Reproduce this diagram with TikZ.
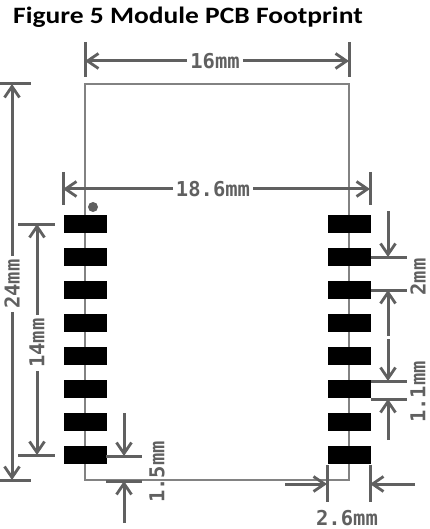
\documentclass[tikz,border=0pt]{standalone}
\usepackage{fontspec}
\setmainfont{Carlito}
\newfontfamily\dimfont{DejaVu Sans Mono}
\usetikzlibrary{arrows.meta}
\definecolor{dimgray}{RGB}{96,96,96}
\definecolor{outl}{RGB}{130,130,130}
\tikzset{
  extline/.style={draw=dimgray, line width=3pt},
  dimarrow/.style={draw=dimgray, line width=3pt, -{Straight Barb[length=11pt,width=15pt,line width=2.8pt]}},
  dimlabel/.style={text=dimgray, font=\dimfont\bfseries\fontsize{20.5}{20.5}\selectfont, inner xsep=3pt, inner ysep=0pt},
  padbox/.style={fill=black, draw=none, minimum width=43pt, minimum height=18pt, inner sep=0pt},
  outlinebox/.style={draw=outl, line width=1.8pt},
  pinmark/.style={circle, fill=dimgray, draw=none, minimum size=10pt, inner sep=0pt},
  titlestyle/.style={font=\bfseries\fontsize{23.5}{23.5}\selectfont, inner sep=0pt, anchor=base west, xscale=1.17}
}
\begin{document}
\begin{tikzpicture}[x=1pt,y=-1pt]
\useasboundingbox (0,0) rectangle (430,529);
% title
\node[titlestyle] (title) at (13,24) {Figure 5 Module PCB Footprint};
% outline
\draw[outlinebox] (85,84) rectangle (349,480);
% pads
\foreach \i in {1,...,8} {
  \node[padbox] (L\i) at (85,{224+33*(\i-1)}) {};
  \node[padbox] (R\i) at (349,{224+33*(\i-1)}) {};
}
\node[pinmark] (pin1) at (93,207) {};
% 16mm
\draw[extline] (85,42) -- (85,77);
\draw[extline] (349,42) -- (349,77);
\coordinate (a16l) at (85,61);
\coordinate (a16r) at (349,61);
\node[dimlabel] (l16) at (215,61) {16mm};
\draw[dimarrow] (l16.west) -- (a16l);
\draw[dimarrow] (l16.east) -- (a16r);
% 18.6mm
\draw[extline] (63,172) -- (63,205);
\draw[extline] (370,172) -- (370,205);
\coordinate (a18l) at (63,189);
\coordinate (a18r) at (370,189);
\node[dimlabel] (l18) at (213,189) {18.6mm};
\draw[dimarrow] (l18.west) -- (a18l);
\draw[dimarrow] (l18.east) -- (a18r);
% 24mm
\draw[extline] (0,84) -- (31,84);
\draw[extline] (0,480) -- (31,480);
\coordinate (a24t) at (12,84);
\coordinate (a24b) at (12,480);
\node[dimlabel, rotate=90] (l24) at (12,284) {24mm};
\draw[dimarrow] (l24.east) -- (a24t);
\draw[dimarrow] (l24.west) -- (a24b);
% 14mm
\draw[extline] (18,224) -- (55,224);
\draw[extline] (18,455) -- (55,455);
\coordinate (a14t) at (37,224);
\coordinate (a14b) at (37,455);
\node[dimlabel, rotate=90] (l14) at (37,343) {14mm};
\draw[dimarrow] (l14.east) -- (a14t);
\draw[dimarrow] (l14.west) -- (a14b);
% 1.5mm
\draw[extline] (106,456) -- (142,456);
\draw[extline] (106,481) -- (142,481);
\coordinate (s15t) at (124,413);
\coordinate (e15t) at (124,456);
\coordinate (s15b) at (124,523);
\coordinate (e15b) at (124,481);
\draw[dimarrow] (s15t) -- (e15t);
\draw[dimarrow] (s15b) -- (e15b);
\node[dimlabel, rotate=90] (l15) at (157,472) {1.5mm};
% 2mm
\draw[extline] (371,257) -- (407,257);
\draw[extline] (371,290) -- (407,290);
\coordinate (s2t) at (388,211);
\coordinate (e2t) at (388,257);
\coordinate (s2b) at (388,336);
\coordinate (e2b) at (388,290);
\draw[dimarrow] (s2t) -- (e2t);
\draw[dimarrow] (s2b) -- (e2b);
\node[dimlabel, rotate=90] (l2) at (418,277) {2mm};
% 1.1mm
\draw[extline] (371,381) -- (407,381);
\draw[extline] (371,399) -- (407,399);
\coordinate (s11t) at (388,339);
\coordinate (e11t) at (388,381);
\coordinate (s11b) at (388,440);
\coordinate (e11b) at (388,399);
\draw[dimarrow] (s11t) -- (e11t);
\draw[dimarrow] (s11b) -- (e11b);
\node[dimlabel, rotate=90] (l11) at (418,392) {1.1mm};
% 2.6mm
\draw[extline] (327,465) -- (327,502);
\draw[extline] (370,465) -- (370,502);
\coordinate (s26l) at (285,484);
\coordinate (e26l) at (327,484);
\coordinate (s26r) at (415,484);
\coordinate (e26r) at (370,484);
\draw[dimarrow] (s26l) -- (e26l);
\draw[dimarrow] (s26r) -- (e26r);
\node[dimlabel] (l26) at (347,518) {2.6mm};
\end{tikzpicture}
\end{document}
